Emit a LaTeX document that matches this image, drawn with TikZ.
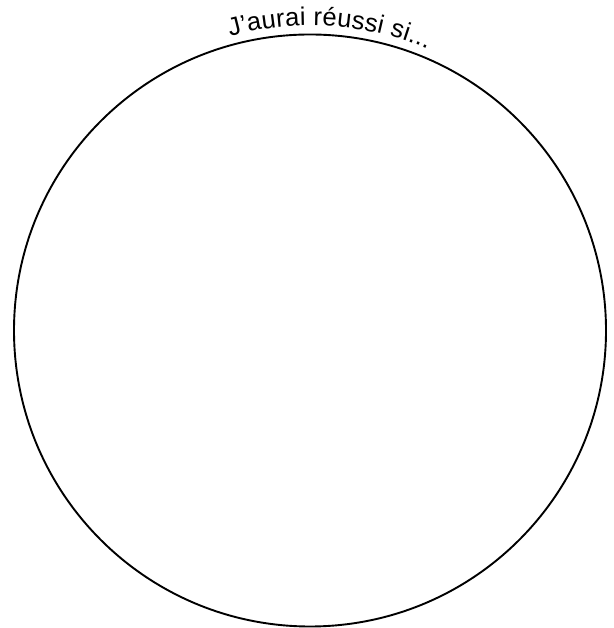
\documentclass[tikz,border=0pt]{standalone}
\usepackage{fontspec}
\setmainfont{Liberation Sans}
\usetikzlibrary{decorations.text,calc}
\begin{document}
\begin{tikzpicture}[x=1pt,y=1pt,
  ring/.style={line width=1.9pt,draw=black},
  archtext/.style={decorate,decoration={text along path,
    text align={fit to path},
    text={|\fontsize{25.5}{25.5}\selectfont|J’aurai réussi si...}}}]
\useasboundingbox (0,0) rectangle (613,628);
\coordinate (c) at (310,297.5);
\node[ring,circle,minimum size=592pt,inner sep=0pt] (disc) at (c) {};
\path[archtext] ($(c)+(105.2:305)$) arc[start angle=105.2,end angle=67.3,radius=305];
\end{tikzpicture}
\end{document}
